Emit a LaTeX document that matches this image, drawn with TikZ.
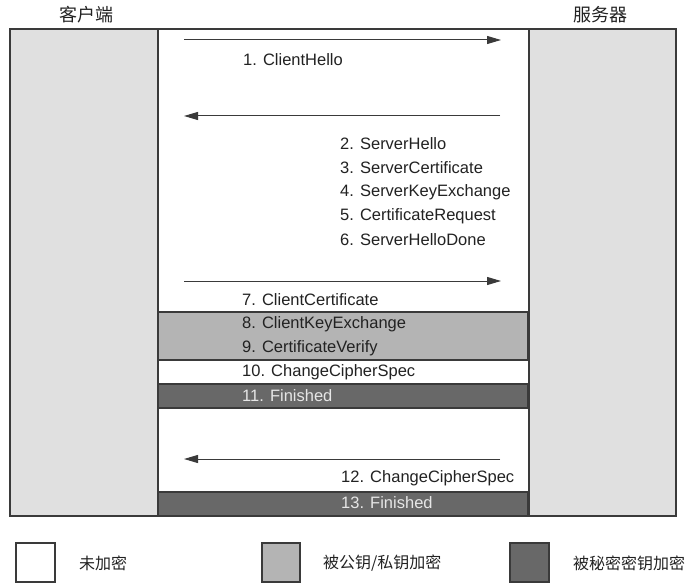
\documentclass[tikz,border=0pt]{standalone}
\usepackage{fontspec}
\setmainfont{Liberation Sans}
\newfontfamily\cjk{Noto Sans CJK SC}
\usetikzlibrary{arrows.meta}
\definecolor{colgray}{HTML}{E0E0E0}
\definecolor{lightbox}{HTML}{B4B4B4}
\definecolor{darkbox}{HTML}{686868}
\definecolor{linec}{HTML}{3A3A3A}
\definecolor{textc}{HTML}{222222}
\definecolor{fintext}{HTML}{E6E6E6}
\tikzset{
  frameline/.style={draw=linec, line width=1.2pt},
  msgarrow/.style={draw=linec, line width=1pt, -{Triangle[length=14pt,width=8pt]}},
  msg/.style={anchor=west, inner sep=0pt, text=textc, font=\fontsize{16.5}{18}\selectfont},
  finmsg/.style={msg, text=fintext},
  hdr/.style={inner sep=0pt, text=textc, font=\cjk\fontsize{18}{20}\selectfont},
  legtext/.style={anchor=west, inner sep=0pt, text=textc, font=\cjk\fontsize{16}{18}\selectfont},
  legbox/.style={frameline},
}
\begin{document}
\begin{tikzpicture}[x=1pt,y=-1pt]
\useasboundingbox[fill=white] (0,0) rectangle (698,588);
% columns
\fill[colgray] (10,29) rectangle (158,516);
\fill[colgray] (529,29) rectangle (676,516);
% shaded boxes
\filldraw[fill=lightbox, frameline] (158,312) rectangle (528,360);
\filldraw[fill=darkbox, frameline] (158,384) rectangle (528,408);
\filldraw[fill=darkbox, frameline] (158,492) rectangle (528,516);
% frame
\draw[frameline] (10,29) rectangle (676,516);
\draw[frameline] (158,29) -- (158,516);
\draw[frameline] (529,29) -- (529,516);
% headers
\node[hdr] (client) at (86,15) {客户端};
\node[hdr] (server) at (600,15) {服务器};
% arrow endpoints
\coordinate (a1s) at (184,40);  \coordinate (a1e) at (501,40);
\coordinate (a2s) at (500,116); \coordinate (a2e) at (184,116);
\coordinate (a3s) at (184,281); \coordinate (a3e) at (501,281);
\coordinate (a4s) at (500,459); \coordinate (a4e) at (184,459);
\draw[msgarrow] (a1s) -- (a1e);
\draw[msgarrow] (a2s) -- (a2e);
\draw[msgarrow] (a3s) -- (a3e);
\draw[msgarrow] (a4s) -- (a4e);
% messages
\node[msg] (m1) at (243,60) {1. ClientHello};
\node[msg] (m2) at (340,144) {2. ServerHello};
\node[msg] (m3) at (340,168) {3. ServerCertificate};
\node[msg] (m4) at (340,192) {4. ServerKeyExchange};
\node[msg] (m5) at (340,216) {5. CertificateRequest};
\node[msg] (m6) at (340,240) {6. ServerHelloDone};
\node[msg] (m7) at (242,300) {7. ClientCertificate};
\node[msg] (m8) at (242,324) {8. ClientKeyExchange};
\node[msg] (m9) at (242,348) {9. CertificateVerify};
\node[msg] (m10) at (242,372) {10. ChangeCipherSpec};
\node[finmsg] (m11) at (242,396) {11. Finished};
\node[msg] (m12) at (341,478) {12. ChangeCipherSpec};
\node[finmsg] (m13) at (341,503) {13. Finished};
% legend
\filldraw[fill=white, legbox] (16,543) rectangle (55,582);
\filldraw[fill=lightbox, legbox] (262,543) rectangle (300,582);
\filldraw[fill=darkbox, legbox] (510,543) rectangle (549,582);
\node[legtext] (l1) at (79,563) {未加密};
\node[legtext] (l2) at (323,563) {被公钥/私钥加密};
\node[legtext] (l3) at (573,563) {被秘密密钥加密};
\end{tikzpicture}
\end{document}
